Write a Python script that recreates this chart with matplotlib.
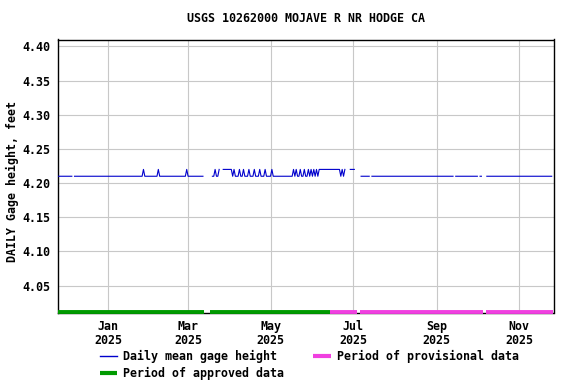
import numpy as np
import pandas as pd
import matplotlib
matplotlib.use("Agg")
import matplotlib.pyplot as plt
from matplotlib.lines import Line2D

# ---------------- data ----------------
title = "USGS 10262000 MOJAVE R NR HODGE CA"
ylabel = "DAILY Gage height, feet"
series_start = "2024-11-25"
# daily mean gage height as runs of (value, number of days); None = no data
gage_runs = [
    (4.21, 11), (None, 1), (4.21, 51), (4.22, 1), (4.21, 10), (4.22, 1),
    (4.21, 20), (4.22, 1), (4.21, 12), (None, 6),
    (4.21, 2), (4.22, 1), (4.21, 2), (4.22, 1), (None, 2),
    (4.22, 7), (4.21, 1), (4.22, 1), (4.21, 3), (4.22, 1), (4.21, 2),
    (4.22, 1), (4.21, 3), (4.22, 1), (4.21, 3), (4.22, 1), (4.21, 3),
    (4.22, 1), (4.21, 3), (4.22, 1), (4.21, 4), (4.22, 1), (4.21, 15),
    (4.22, 1), (4.21, 1), (4.22, 1), (4.21, 2), (4.22, 1), (4.21, 2),
    (4.22, 1), (4.21, 2), (4.22, 1), (4.21, 1), (4.22, 1), (4.21, 1),
    (4.22, 1), (4.21, 1), (4.22, 1), (4.21, 1), (4.22, 16), (4.21, 1),
    (4.22, 1), (4.21, 1), (4.22, 1), (None, 3), (4.22, 4), (None, 4),
    (4.21, 7), (None, 1), (4.21, 61), (None, 1), (4.21, 17), (None, 1),
    (4.21, 2), (None, 3), (4.21, 49),
]
approved_periods = [("2024-11-25 00:00", "2025-03-12 20:00"),
                    ("2025-03-17 04:00", "2025-06-14 00:00")]
provisional_periods = [("2025-06-14 00:00", "2025-07-03 16:00"),
                       ("2025-07-06 04:00", "2025-10-04 22:00"),
                       ("2025-10-07 10:00", "2025-11-25 16:00")]
x_limits = ("2024-11-25 00:00", "2025-11-26 08:00")
y_limits = (4.01, 4.41)
y_ticks = [4.05, 4.10, 4.15, 4.20, 4.25, 4.30, 4.35, 4.40]
x_ticks = ["2025-01-01", "2025-03-01", "2025-05-01", "2025-07-01", "2025-09-01", "2025-11-01"]
x_tick_labels = ["Jan\n2025", "Mar\n2025", "May\n2025", "Jul\n2025", "Sep\n2025", "Nov\n2025"]
legend_labels = ["Daily mean gage height", "Period of approved data", "Period of provisional data"]

# ---------------- expand runs ----------------
vals = []
for v, n in gage_runs:
    vals.extend([np.nan if v is None else v] * n)
dates = pd.date_range(series_start, periods=len(vals), freq="D")
vals = np.array(vals, dtype=float)

# ---------------- style ----------------
FONT = "DejaVu Sans Mono"
FS = 8.4
plt.rcParams["font.family"] = FONT
plt.rcParams["font.weight"] = "bold"
plt.rcParams["font.size"] = FS

BLUE = "#0000CC"
GREEN = "#009A00"
PINK = "#F040E0"
GRID = "#C8C8C8"

W, H = 576, 384
fig = plt.figure(figsize=(W / 100, H / 100), dpi=100)
L, R, T, B = 58.3, 553.5, 39.5, 313.0
ax = fig.add_axes([L / W, 1 - B / H, (R - L) / W, (B - T) / H])

ax.plot(dates, vals, color=BLUE, lw=0.8, zorder=3)

tr = ax.get_xaxis_transform()
for s, e in approved_periods:
    ax.plot([pd.Timestamp(s), pd.Timestamp(e)], [0.005, 0.005], transform=tr,
            color=GREEN, lw=2.8, solid_capstyle="butt", clip_on=False, zorder=5)
for s, e in provisional_periods:
    ax.plot([pd.Timestamp(s), pd.Timestamp(e)], [0.005, 0.005], transform=tr,
            color=PINK, lw=2.8, solid_capstyle="butt", clip_on=False, zorder=5)

ax.set_xlim(pd.Timestamp(x_limits[0]), pd.Timestamp(x_limits[1]))
ax.set_ylim(*y_limits)
ax.set_yticks(y_ticks)
ax.set_yticklabels([f"{t:.2f}" for t in y_ticks])
ax.set_xticks([pd.Timestamp(t) for t in x_ticks])
ax.set_xticklabels(x_tick_labels, linespacing=1.1)
ax.tick_params(axis="both", length=0, labelsize=FS)
ax.tick_params(axis="y", pad=6)
ax.tick_params(axis="x", pad=5)
for lab in ax.get_xticklabels() + ax.get_yticklabels():
    lab.set_fontweight("bold")
ax.grid(True, color=GRID, lw=0.8, zorder=0)
ax.set_axisbelow(True)
for sp in ax.spines.values():
    sp.set_color("black")
    sp.set_linewidth(1.0)

fig.text((L + R) / 2 / W, 1 - 19 / H, title, ha="center", va="center",
         fontsize=FS, fontweight="bold")
fig.text(12 / W, 1 - 181 / H, ylabel, ha="center", va="center", rotation=90,
         fontsize=FS, fontweight="bold")

handles = [Line2D([], [], color=BLUE, lw=1.0),
           Line2D([], [], color=GREEN, lw=3.0, solid_capstyle="butt"),
           Line2D([], [], color=PINK, lw=3.0, solid_capstyle="butt")]
fig.legend(handles, legend_labels, ncol=2, loc="upper left",
           bbox_to_anchor=(94 / W, 1 - 344 / H), frameon=False, borderpad=0,
           handlelength=1.5, handletextpad=0.5, columnspacing=2.5,
           labelspacing=0.35, prop={"family": FONT, "weight": "bold", "size": FS})

fig.savefig("out.png", dpi=100)
